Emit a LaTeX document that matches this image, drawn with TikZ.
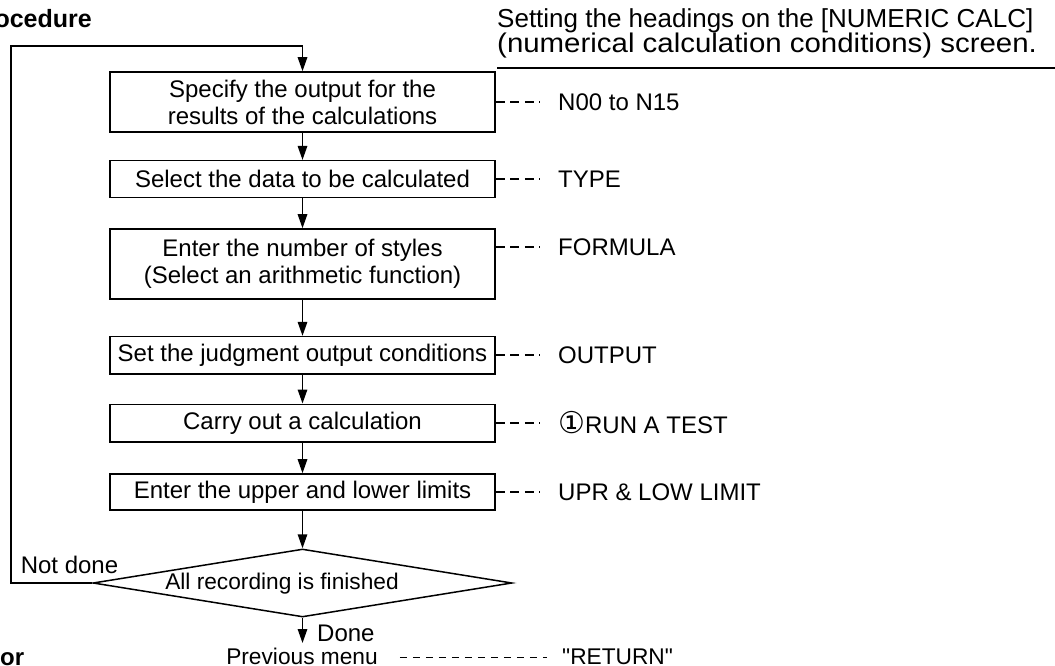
\documentclass[tikz,border=0pt]{standalone}
\usepackage{fontspec}
\setmainfont{Liberation Sans}
\newfontfamily\dejavu{DejaVu Sans}
\usetikzlibrary{arrows.meta,shapes.geometric}
\begin{document}
\begin{tikzpicture}[x=1pt,y=-1pt,
  every node/.style={font=\fontsize{24}{27}\selectfont},
  small/.style={font=\fontsize{22.7}{27}\selectfont},
  stepbox/.style={draw,line width=1.6pt,minimum width=385pt,inner sep=0pt,align=center},
  flow/.style={line width=1.5pt,-{Triangle[length=14pt,width=9.5pt]}},
  leader/.style={line width=1.2pt,dash pattern=on 9pt off 5.5pt},
  lbl/.style={anchor=west,inner sep=0pt},
  hdrtext/.style={anchor=base west,inner sep=0pt,font=\fontsize{26}{27}\selectfont},
]
\useasboundingbox (0,0) rectangle (1055,666);

% title fragments
\node[anchor=base east,inner sep=0pt,font=\fontsize{25}{27}\selectfont\bfseries] (ttl) at (92,28) {ocedure};
\node[anchor=base west,inner sep=0pt,font=\fontsize{24}{27}\selectfont\bfseries] (ttl2) at (0,665.5) {or};

% header
\node[hdrtext] (h1) at (497,28) {Setting the headings on the [NUMERIC CALC]};
\node[hdrtext,font=\fontsize{27}{27}\selectfont] (h2) at (497,53) {\scalebox{1.09}[1]{(numerical calculation conditions) screen.}};
\coordinate (ue) at (1055,68);
\draw[line width=1.2pt] (h2.west |- ue) -- (ue);

% boxes
\node[stepbox,minimum height=60pt] (b1) at (302.5,102) {Specify the output for the\\results of the calculations};
\node[stepbox,minimum height=36.6pt] (b2) at (302.5,179) {Select the data to be calculated};
\node[stepbox,minimum height=70pt] (b3) at (302.5,264) {Enter the number of styles\\(Select an arithmetic function)};
\node[stepbox,minimum height=37.3pt] (b4) at (302.5,355.3) {Set the judgment output conditions};
\node[stepbox,minimum height=37.4pt] (b5) at (302.5,423) {Carry out a calculation};
\node[stepbox,minimum height=36pt] (b6) at (302.5,492) {Enter the upper and lower limits};
\node[diamond,draw,line width=1.5pt,minimum width=419pt,minimum height=68pt,inner sep=0pt] (dec) at (302.5,583) {};
\node[small] (dect) at (282,584) {All recording is finished};

% flow arrows
\draw[flow] (b1) -- (b2);
\draw[flow] (b2) -- (b3);
\draw[flow] (b3) -- (b4);
\draw[flow] (b4) -- (b5);
\draw[flow] (b5) -- (b6);
\draw[flow] (b6) -- (dec.north);

% loop back
\coordinate (lc) at (11,46);
\draw[flow] (dec.west) -- (dec.west -| lc) -- (lc) -- (lc -| b1.north) -- (b1.north);
\node (nd) at (69.5,565) {Not done};

% done
\coordinate (pm) at (302.5,643);
\draw[flow] (dec.south) -- (pm);
\node[anchor=base west,inner sep=0pt] (dn) at (317,641.5) {Done};
\node[small,anchor=base,inner sep=0pt] (prev) at (302,664.5) {Previous menu};
\node[small,anchor=base west,inner sep=0pt] (ret) at (562,664.5) {\textquotedbl RETURN\textquotedbl};
\draw[line width=1.1pt,dash pattern=on 7.5pt off 5.5pt] ([xshift=22pt,yshift=7pt]prev.base east) -- ([xshift=-15pt,yshift=7pt]ret.base west);

% labels
\node[lbl] (l1) at (558,102) {N00 to N15};
\node[lbl] (l2) at (558,179) {TYPE};
\node[lbl] (l3) at (558,247) {FORMULA};
\node[lbl] (l4) at (558,355) {OUTPUT};
\node[lbl] (l5) at (558,423) {{\dejavu\fontsize{30}{27}\selectfont ①}RUN A TEST};
\node[lbl] (l6) at (558,492) {UPR \& LOW LIMIT};

\draw[leader] (b1.east |- l1.west) -- ([xshift=-18pt]l1.west);
\draw[leader] (b2.east |- l2.west) -- ([xshift=-18pt]l2.west);
\draw[leader] (b3.east |- l3.west) -- ([xshift=-18pt]l3.west);
\draw[leader] (b4.east |- l4.west) -- ([xshift=-18pt]l4.west);
\draw[leader] (b5.east |- l5.west) -- ([xshift=-18pt]l5.west);
\draw[leader] (b6.east |- l6.west) -- ([xshift=-18pt]l6.west);
\end{tikzpicture}
\end{document}
